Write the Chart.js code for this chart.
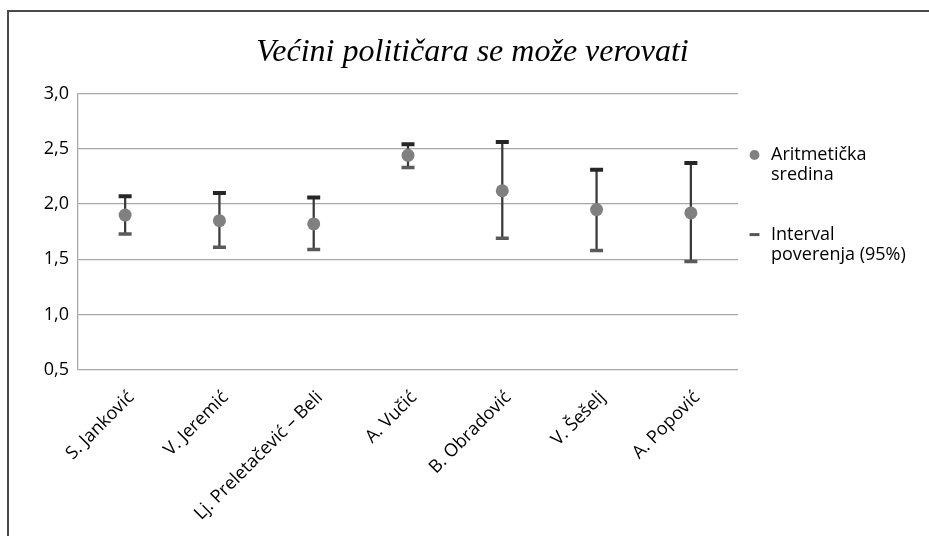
<!DOCTYPE html>
<html>
<head>
<meta charset="utf-8">
<script src="https://cdn.jsdelivr.net/npm/chart.js@4.4.1/dist/chart.umd.min.js"></script>
<style>
  html, body { margin: 0; padding: 0; background: #fff; }
  #okvir { position: relative; width: 929px; height: 536px; overflow: hidden; }
  #ivica { position: absolute; left: 7px; top: 10px; width: 1000px; height: 600px;
           border: 2px solid #4a4a4a; box-sizing: border-box; pointer-events: none; }
</style>
</head>
<body>
<div id="okvir">
  <canvas id="grafik" width="929" height="536"></canvas>
  <div id="ivica"></div>
</div>
<script>
// Političari (kategorije na x osi)
const politicari = ['S. Janković', 'V. Jeremić', 'Lj. Preletačević – Beli', 'A. Vučić', 'B. Obradović', 'V. Šešelj', 'A. Popović'];
// Aritmetička sredina
const sredine = [1.90, 1.85, 1.82, 2.44, 2.12, 1.95, 1.92];
// Granice intervala poverenja (95%)
const gornje = [2.07, 2.10, 2.06, 2.54, 2.56, 2.31, 2.37];
const donje = [1.73, 1.61, 1.59, 2.33, 1.69, 1.58, 1.48];
// Podeoci y ose
const yPodeoci = [0.5, 1.0, 1.5, 2.0, 2.5, 3.0];
// Tekst legende (u dva reda)
const legenda = [['Aritmetička', 'sredina'], ['Interval', 'poverenja (95%)']];

const font = 'Open Sans';

// pomera legendu ulevo/nadole posle rasporeda (desna ivica ostaje do kraja platna)
const pomeriLegendu = {
    id: 'pomeriLegendu',
    afterLayout(chart) {
        const l = chart.legend;
        l.left -= 31; l.right = chart.width;
        l.top += 96; l.bottom += 96;
    }
};

const ctx = document.getElementById('grafik').getContext('2d');

const grafik = new Chart(ctx, {
    type: 'bar',
    data: {
        labels: politicari,
        datasets: [
            {
                label: 'Aritmetička sredina',
                type: 'line',
                data: sredine,
                showLine: false,
                pointStyle: 'circle',
                pointRadius: 6.5,
                pointBackgroundColor: '#808080',
                pointBorderColor: '#808080',
                pointBorderWidth: 0,
                order: 0
            },
            {
                label: 'Gornja granica',
                type: 'line',
                data: gornje,
                showLine: false,
                pointStyle: 'line',
                pointRadius: 6.5,
                pointBorderColor: '#262626',
                pointBorderWidth: 4,
                order: 1
            },
            {
                label: 'Donja granica',
                type: 'line',
                data: donje,
                showLine: false,
                pointStyle: 'line',
                pointRadius: 6.5,
                pointBorderColor: '#5a5a5a',
                pointBorderWidth: 3.5,
                order: 1
            },
            {
                label: 'Interval poverenja (95%)',
                data: donje.map((d, i) => [d, gornje[i]]),
                backgroundColor: '#3a3a3a',
                barThickness: 1.6,
                order: 2
            }
        ]
    },
    options: {
        responsive: false,
        animation: false,
        layout: { padding: { left: 28, right: 12, top: 10, bottom: 0 } },
        plugins: {
            tooltip: { enabled: false },
            title: {
                display: true,
                text: 'Većini političara se može verovati',
                color: '#000',
                font: { family: 'Liberation Serif', style: 'italic', size: 32, weight: 'normal', lineHeight: 1.2 },
                padding: { top: 23, bottom: 22 }
            },
            legend: {
                display: true,
                position: 'right',
                align: 'start',
                maxWidth: 179,
                labels: {
                    usePointStyle: true,
                    boxWidth: 15,
                    boxHeight: 7,
                    padding: 40,
                    color: '#000',
                    font: { family: font, size: 18, lineHeight: 1.1 },
                    generateLabels() {
                        return [
                            { text: legenda[0], pointStyle: 'circle', fillStyle: '#808080', strokeStyle: '#808080', lineWidth: 0, hidden: false, datasetIndex: 0, fontColor: '#000' },
                            { text: legenda[1], pointStyle: 'line', fillStyle: '#555', strokeStyle: '#555', lineWidth: 3, hidden: false, datasetIndex: 3, fontColor: '#000' }
                        ];
                    }
                }
            }
        },
        scales: {
            x: {
                offset: true,
                grid: { display: false },
                border: { display: false },
                ticks: {
                    color: '#000',
                    font: { family: font, size: 18 },
                    minRotation: 45,
                    maxRotation: 45,
                    padding: 9,
                    labelOffset: 6
                },
                afterFit(scale) { scale.height = 166; }
            },
            y: {
                min: yPodeoci[0],
                max: yPodeoci[yPodeoci.length - 1],
                grid: { color: '#a8a8a8', lineWidth: 1.3, drawTicks: false },
                border: { display: true, color: '#a8a8a8', width: 1.3 },
                ticks: {
                    stepSize: 0.5,
                    color: '#000',
                    padding: 9,
                    font: { family: font, size: 18 },
                    callback: v => v.toFixed(1).replace('.', ',')
                },
                afterFit(scale) { scale.width = 50; }
            }
        }
    },
    plugins: [pomeriLegendu]
});
</script>
</body>
</html>
